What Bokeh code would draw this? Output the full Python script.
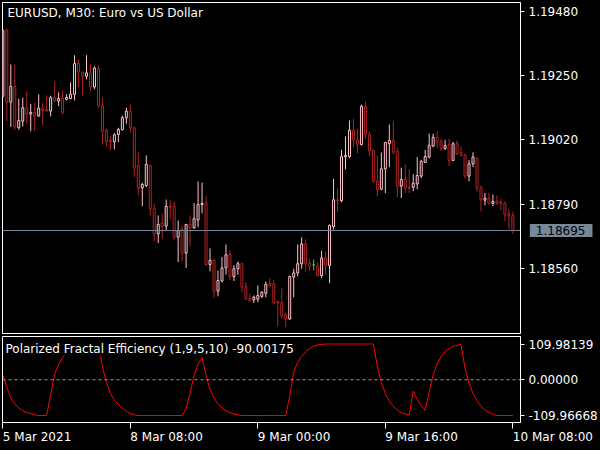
from bokeh.plotting import figure
from bokeh.models import Range1d, FixedTicker, Span, Label, ColumnDataSource, NumeralTickFormatter
from bokeh.core.properties import value
from bokeh.layouts import column
from bokeh.embed import file_html
from bokeh.resources import INLINE

# ---------------- data ----------------
bars = list(range(-1, 128))

opens = [1.19176, 1.19412, 1.19155, 1.19211, 1.19063, 1.19087, 1.19135, 1.19112, 1.19118, 1.19105,
         1.19133, 1.19129, 1.19123, 1.19171, 1.19159, 1.19168, 1.19165, 1.19168, 1.19183, 1.19293,
         1.19263, 1.19248, 1.19260, 1.19209, 1.19275, 1.19141, 1.19054, 1.19018, 1.19013, 1.19039,
         1.19056, 1.19099, 1.19122, 1.19063, 1.18928, 1.18848, 1.18856, 1.18928, 1.18773, 1.18683,
         1.18721, 1.18711, 1.18781, 1.18781, 1.18671, 1.18699, 1.18614, 1.18717, 1.18705, 1.18733,
         1.18788, 1.18794, 1.18573, 1.18588, 1.18478, 1.18514, 1.18561, 1.18608, 1.18530, 1.18558,
         1.18576, 1.18494, 1.18451, 1.18447, 1.18449, 1.18459, 1.18470, 1.18505, 1.18504, 1.18441,
         1.18437, 1.18394, 1.18378, 1.18528, 1.18543, 1.18576, 1.18647, 1.18577, 1.18572, 1.18568,
         1.18534, 1.18597, 1.18570, 1.18709, 1.18805, 1.18802, 1.18959, 1.18960, 1.19054, 1.19020,
         1.19003, 1.19140, 1.19039, 1.18982, 1.18872, 1.18843, 1.18916, 1.19006, 1.19018, 1.18978,
         1.18854, 1.18878, 1.18850, 1.18850, 1.18862, 1.18890, 1.18939, 1.18958, 1.18997, 1.19029,
         1.19014, 1.18989, 1.19003, 1.18946, 1.19006, 1.18974, 1.18966, 1.18890, 1.18934, 1.18954,
         1.18848, 1.18804, 1.18810, 1.18792, 1.18799, 1.18797, 1.18793, 1.18755, 1.18749]

highs = [1.19415, 1.19419, 1.19290, 1.19290, 1.19167, 1.19171, 1.19193, 1.19149, 1.19152, 1.19183,
         1.19153, 1.19179, 1.19178, 1.19229, 1.19190, 1.19197, 1.19183, 1.19226, 1.19323, 1.19308,
         1.19263, 1.19323, 1.19290, 1.19283, 1.19287, 1.19172, 1.19060, 1.19032, 1.19044, 1.19063,
         1.19107, 1.19135, 1.19147, 1.19068, 1.18978, 1.18866, 1.18964, 1.18932, 1.18791, 1.18749,
         1.18755, 1.18806, 1.18803, 1.18799, 1.18731, 1.18713, 1.18717, 1.18749, 1.18793, 1.18871,
         1.18867, 1.18817, 1.18631, 1.18591, 1.18552, 1.18600, 1.18645, 1.18623, 1.18570, 1.18584,
         1.18579, 1.18510, 1.18470, 1.18462, 1.18498, 1.18478, 1.18512, 1.18524, 1.18519, 1.18442,
         1.18488, 1.18401, 1.18533, 1.18558, 1.18645, 1.18671, 1.18663, 1.18594, 1.18591, 1.18582,
         1.18623, 1.18620, 1.18717, 1.18880, 1.18845, 1.18984, 1.19032, 1.19089, 1.19095, 1.19060,
         1.19146, 1.19158, 1.19048, 1.18984, 1.18964, 1.18975, 1.19012, 1.19075, 1.19089, 1.18992,
         1.18920, 1.18932, 1.18914, 1.18896, 1.18958, 1.18948, 1.18984, 1.19042, 1.19042, 1.19050,
         1.19024, 1.19020, 1.19024, 1.19012, 1.19018, 1.18996, 1.18970, 1.18948, 1.18975, 1.18958,
         1.18856, 1.18830, 1.18830, 1.18824, 1.18821, 1.18809, 1.18799, 1.18773, 1.18763]

lows = [1.19171, 1.19087, 1.19066, 1.19057, 1.19057, 1.19068, 1.19078, 1.19051, 1.19051, 1.19104,
        1.19072, 1.19123, 1.19104, 1.19159, 1.19140, 1.19111, 1.19161, 1.19165, 1.19161, 1.19209,
        1.19179, 1.19236, 1.19195, 1.19201, 1.19135, 1.19003, 1.18996, 1.18982, 1.18986, 1.19012,
        1.19054, 1.19078, 1.19046, 1.18886, 1.18821, 1.18782, 1.18850, 1.18749, 1.18657, 1.18650,
        1.18665, 1.18695, 1.18735, 1.18663, 1.18582, 1.18585, 1.18561, 1.18638, 1.18701, 1.18707,
        1.18757, 1.18570, 1.18549, 1.18454, 1.18459, 1.18510, 1.18537, 1.18518, 1.18514, 1.18537,
        1.18474, 1.18447, 1.18442, 1.18435, 1.18438, 1.18453, 1.18456, 1.18492, 1.18430, 1.18352,
        1.18378, 1.18349, 1.18375, 1.18456, 1.18531, 1.18558, 1.18548, 1.18549, 1.18552, 1.18530,
        1.18525, 1.18537, 1.18506, 1.18699, 1.18761, 1.18797, 1.18914, 1.18954, 1.18994, 1.18972,
        1.19000, 1.19024, 1.18960, 1.18865, 1.18817, 1.18839, 1.18829, 1.18922, 1.18968, 1.18815,
        1.18811, 1.18829, 1.18829, 1.18836, 1.18843, 1.18883, 1.18937, 1.18954, 1.18996, 1.18990,
        1.18980, 1.18984, 1.18926, 1.18946, 1.18966, 1.18960, 1.18880, 1.18871, 1.18922, 1.18835,
        1.18764, 1.18785, 1.18787, 1.18782, 1.18787, 1.18767, 1.18729, 1.18699, 1.18683]

closes = [1.19412, 1.19155, 1.19211, 1.19066, 1.19089, 1.19135, 1.19113, 1.19118, 1.19105, 1.19133,
          1.19125, 1.19123, 1.19171, 1.19159, 1.19168, 1.19118, 1.19172, 1.19183, 1.19293, 1.19263,
          1.19248, 1.19260, 1.19209, 1.19277, 1.19141, 1.19051, 1.19015, 1.19013, 1.19038, 1.19057,
          1.19099, 1.19122, 1.19063, 1.18919, 1.18847, 1.18860, 1.18932, 1.18773, 1.18683, 1.18717,
          1.18709, 1.18781, 1.18779, 1.18671, 1.18695, 1.18614, 1.18717, 1.18705, 1.18737, 1.18788,
          1.18792, 1.18573, 1.18588, 1.18478, 1.18516, 1.18561, 1.18608, 1.18530, 1.18558, 1.18576,
          1.18492, 1.18449, 1.18445, 1.18456, 1.18462, 1.18474, 1.18502, 1.18498, 1.18435, 1.18435,
          1.18389, 1.18378, 1.18530, 1.18543, 1.18576, 1.18647, 1.18576, 1.18567, 1.18572, 1.18534,
          1.18597, 1.18570, 1.18713, 1.18805, 1.18802, 1.18960, 1.18964, 1.19054, 1.19020, 1.19003,
          1.19140, 1.19038, 1.18980, 1.18872, 1.18841, 1.18916, 1.19011, 1.19018, 1.18976, 1.18854,
          1.18878, 1.18847, 1.18847, 1.18864, 1.18892, 1.18943, 1.18960, 1.18999, 1.19029, 1.19012,
          1.18988, 1.18999, 1.18946, 1.19006, 1.18969, 1.18964, 1.18890, 1.18934, 1.18958, 1.18847,
          1.18805, 1.18811, 1.18793, 1.18799, 1.18792, 1.18791, 1.18751, 1.18748, 1.18695]

pfe = [15, -24, -56, -74, -87, -95, -101, -104, -108, -110,
       -110, -110, -45, 18, 46, 68, 85, 96, 103, 107,
       109, 110, 110, 110, 110, 39, -8, -43, -63, -76,
       -87, -97, -104, -108, -110, -110, -110, -110, -110, -110,
       -110, -110, -110, -110, -110, -110, -89, -40, 13, 49,
       68, 13, -29, -56, -74, -87, -95, -101, -105, -108,
       -110, -110, -110, -110, -110, -110, -110, -110, -110, -110,
       -110, -110, -50, 23, 54, 72, 86, 96, 104, 107,
       109, 110, 110, 110, 110, 110, 110, 110, 110, 110,
       110, 110, 110, 110, 40, -8, -43, -66, -82, -93,
       -101, -105, -108, -35, -61, -79, -94, -38, 15, 49,
       72, 86, 96, 103, 106, 109, 34, -10, -42, -64,
       -82, -93, -101, -106, -110, -110, -110, -110, -110]

price_ticks = [1.19480, 1.19250, 1.19020, 1.18790, 1.18560]
pfe_ticks = [109.98139, 0.0, -109.96668]
time_ticks = [-1, 31, 63, 95, 127]
time_labels = ["5 Mar 2021", "8 Mar 08:00", "9 Mar 00:00", "9 Mar 16:00", "10 Mar 08:00"]
last_bar = 127
last_price = 1.18695
main_title = "EURUSD, M30:  Euro vs US Dollar"
ind_title = "Polarized Fractal Efficiency (1,9,5,10) -90.00175"

# ---------------- styling ----------------
BULL = "#FFC0CB"
BEAR = "#B22222"
DOJI = "#00FF00"
FONT = "DejaVu Sans"

colors = [BULL if c > o else (BEAR if c < o else DOJI) for o, c in zip(opens, closes)]
src = ColumnDataSource(dict(
    x=bars, high=highs, low=lows,
    top=[max(o, c) for o, c in zip(opens, closes)],
    bottom=[min(o, c) for o, c in zip(opens, closes)],
    color=colors,
))

x_range = Range1d(-1.0825, 128.92)


def style(p):
    p.background_fill_color = "black"
    p.border_fill_color = "black"
    p.outline_line_color = "white"
    p.outline_line_width = 1
    p.grid.visible = False
    for ax in p.yaxis:
        ax.axis_line_color = "white"
        ax.major_tick_line_color = "white"
        ax.major_tick_out = 4
        ax.major_tick_in = 0
        ax.minor_tick_line_color = None
        ax.major_label_text_color = "white"
        ax.major_label_text_font = FONT
        ax.major_label_text_font_size = "12px"
        ax.major_label_standoff = 4
        ax.formatter = NumeralTickFormatter(format="0.00000")


# main price panel
p1 = figure(width=600, height=335, x_range=x_range, y_range=Range1d(1.18326, 1.19512),
            y_axis_location="right", x_axis_location=None,
            toolbar_location=None, output_backend="svg",
            min_border_left=2, min_border_right=78, min_border_top=2, min_border_bottom=2)
style(p1)
p1.yaxis.ticker = FixedTicker(ticks=price_ticks)

p1.segment(x0="x", y0="low", x1="x", y1="high", line_color="color", line_width=1, source=src)
p1.vbar(x="x", width=0.5, top="top", bottom="bottom", fill_color="black",
        line_color="color", line_width=1, source=src)
p1.add_layout(Span(location=last_price, dimension="width", line_color="#778899", line_width=1))

p1.add_layout(Label(x=0.17, y=1.19476, text=main_title, text_color="white", text_font=FONT,
                    text_font_size="12px", text_baseline="middle", text_align="left"))
# price tag: anchored at the last price, pushed into the axis area (overlay level = no clip)
p1.text(x=[last_bar + 1.5], y=[last_price], text=["%.5f" % last_price], x_offset=11,
        text_color="black", text_font=value(FONT), text_font_size="12px",
        text_baseline="middle", text_align="left",
        background_fill_color="#778899",
        padding=dict(left=6, right=7, top=2, bottom=2), level="overlay")

# indicator panel
p2 = figure(width=600, height=115, x_range=x_range, y_range=Range1d(-131.5, 133.1),
            y_axis_location="right", toolbar_location=None, output_backend="svg",
            min_border_left=2, min_border_right=78, min_border_top=1, min_border_bottom=28)
style(p2)
p2.yaxis.ticker = FixedTicker(ticks=pfe_ticks)
xa = p2.xaxis[0]
xa.ticker = FixedTicker(ticks=time_ticks)
xa.axis_line_color = "white"
xa.major_tick_line_color = "white"
xa.major_tick_out = 6
xa.major_tick_in = 0
xa.minor_tick_line_color = None
xa.major_label_text_font_size = "0px"
xa.major_label_standoff = 0
xa.major_label_text_color = None

p2.add_layout(Span(location=0, dimension="width", line_color="#9a9a9a", line_width=1,
                   line_dash="3 3"))
p2.line(bars, pfe, line_color="#FF0000", line_width=1)
p2.add_layout(Label(x=-0.33, y=96, text=ind_title, text_color="white", text_font=FONT,
                    text_font_size="12px", text_baseline="middle", text_align="left",
                    background_fill_color="black"))
# time labels, left-aligned on their ticks, drawn below the frame (overlay level = no clip)
p2.text(x=time_ticks, y=[-131.0] * len(time_ticks), text=time_labels, y_offset=15,
        text_color="white", text_font=value(FONT), text_font_size="12px",
        text_baseline="middle", text_align="left", level="overlay")

layout = column(p1, p2, spacing=0)
layout.styles = {"background-color": "black"}

html = file_html(layout, INLINE)
html = html.replace("<head>", "<head><style>html, body { background-color: #000000; }</style>", 1)
open("out.html", "w").write(html)
